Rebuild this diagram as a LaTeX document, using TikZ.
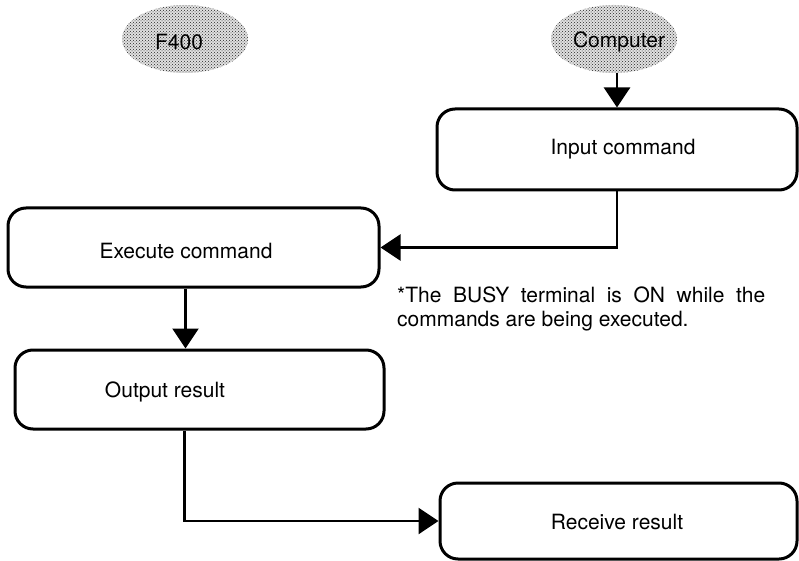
\documentclass[tikz,border=0pt]{standalone}
\usepackage{fontspec}
\setmainfont{TeX Gyre Heros}
\usepackage{tikz}
\usetikzlibrary{arrows.meta,patterns,shapes.geometric}

\begin{document}
\begin{tikzpicture}[x=1pt,y=-1pt,>={Triangle[length=20pt,width=26pt]},
  font=\fontsize{21}{24}\selectfont,
  actor/.style={ellipse,preaction={fill=black!12},pattern=crosshatch dots,pattern color=black!85,inner sep=0pt,minimum width=126pt,minimum height=68pt},
  proc/.style={rectangle,draw,line width=3pt,rounded corners=18pt,inner sep=0pt},
  flow/.style={->,line width=2.6pt}]
  \useasboundingbox (0,0) rectangle (799,561);
  % who does what
  \node[actor] (f400) at (185,39) {};
  \node at (179,42) {F400};
  \node[actor] (pc) at (614,39) {};
  \node at (619,42) {Computer};
  % steps
  \node[proc,minimum width=360pt,minimum height=81pt] (input) at (617,149.5) {};
  \node at (623,149) {Input command};
  \node[proc,minimum width=371pt,minimum height=79pt] (exec) at (193.5,247.5) {};
  \node at (186,251) {Execute command};
  \node[proc,minimum width=369pt,minimum height=79pt] (output) at (199.5,389.5) {};
  \node at (165,392) {Output result};
  \node[proc,minimum width=357pt,minimum height=76pt] (recv) at (618.5,521) {};
  \node at (617,522) {Receive result};
  \node[anchor=north west,inner sep=0pt,text width=368pt,align=justify] (note) at (397,287)
    {*The BUSY terminal is ON while the commands are being executed.};
  % connectors
  \draw[flow] (pc.south -| input.north) -- (input.north);
  \draw[flow] (input.south) |- (exec.east);
  \draw[flow] ([xshift=-8pt]exec.south) -- ([xshift=-8pt]exec.south |- output.north);
  \draw[flow] ([xshift=-15pt]output.south) |- (recv.west);
\end{tikzpicture}
\end{document}
